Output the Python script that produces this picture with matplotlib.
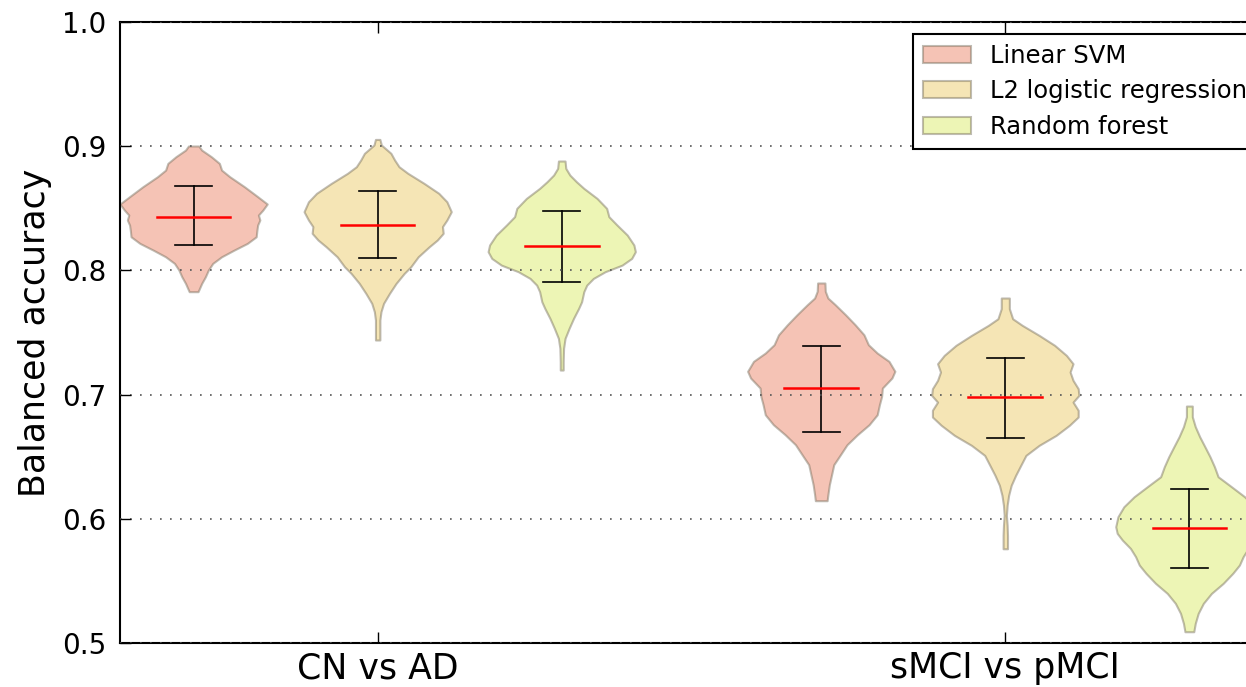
import numpy as np
import matplotlib.pyplot as plt
from matplotlib.patches import Patch

groups = ["CN vs AD", "sMCI vs pMCI"]
models = ["Linear SVM", "L2 logistic regression", "Random forest"]
colors = ["#f5c3b5", "#f5e5b5", "#edf5b5"]

# violin outlines: accuracy and relative half width (1 = widest)
svm_cn_y = [0.9002, 0.8969, 0.8916, 0.8862, 0.8808, 0.8755, 0.8674, 0.8594, 0.8535, 0.8486, 0.8446, 0.8406,
            0.8366, 0.8325, 0.8271, 0.8218, 0.8164, 0.8110, 0.8057, 0.8003, 0.7949, 0.7896, 0.7842, 0.7829]
svm_cn_w = [0.07, 0.11, 0.24, 0.35, 0.38, 0.49, 0.69, 0.87, 1.0, 0.94, 0.88, 0.90,
            0.87, 0.86, 0.85, 0.73, 0.55, 0.38, 0.26, 0.20, 0.16, 0.11, 0.07, 0.06]

lr_cn_y = [0.9055, 0.9010, 0.8943, 0.8889, 0.8835, 0.8782, 0.8701, 0.8621, 0.8553, 0.8473, 0.8406, 0.8353, 0.8299,
           0.8245, 0.8191, 0.8110, 0.8030, 0.7976, 0.7896, 0.7815, 0.7735, 0.7668, 0.7601, 0.7520, 0.7440]
lr_cn_w = [0.03, 0.05, 0.18, 0.23, 0.29, 0.41, 0.63, 0.83, 0.94, 1.0, 0.94, 0.88, 0.89,
           0.81, 0.70, 0.55, 0.45, 0.36, 0.25, 0.16, 0.08, 0.045, 0.03, 0.03, 0.03]

rf_cn_y = [0.8881, 0.8822, 0.8768, 0.8714, 0.8661, 0.8580, 0.8500, 0.8433, 0.8366, 0.8285, 0.8205, 0.8151, 0.8097,
           0.8043, 0.7990, 0.7936, 0.7882, 0.7829, 0.7748, 0.7695, 0.7614, 0.7534, 0.7453, 0.7373, 0.7265, 0.7198]
rf_cn_w = [0.045, 0.055, 0.11, 0.20, 0.30, 0.48, 0.61, 0.64, 0.75, 0.89, 0.98, 1.0, 0.95,
           0.82, 0.59, 0.43, 0.34, 0.30, 0.27, 0.23, 0.16, 0.10, 0.045, 0.025, 0.02, 0.02]

svm_mci_y = [0.7899, 0.7832, 0.7778, 0.7724, 0.7643, 0.7563, 0.7482, 0.7402, 0.7335, 0.7268, 0.7188, 0.7134, 0.7053,
             0.6986, 0.6919, 0.6838, 0.6758, 0.6677, 0.6597, 0.6516, 0.6436, 0.6355, 0.6275, 0.6194, 0.6146]
svm_mci_w = [0.05, 0.055, 0.09, 0.19, 0.33, 0.46, 0.58, 0.64, 0.76, 0.92, 1.0, 0.96, 0.83,
             0.82, 0.79, 0.76, 0.65, 0.49, 0.35, 0.26, 0.17, 0.14, 0.11, 0.09, 0.08]

lr_mci_y = [0.7778, 0.7692, 0.7611, 0.7558, 0.7477, 0.7397, 0.7316, 0.7249, 0.7182, 0.7115, 0.7048, 0.6994, 0.6940, 0.6874,
            0.6820, 0.6753, 0.6672, 0.6592, 0.6511, 0.6431, 0.6350, 0.6270, 0.6189, 0.6109, 0.6028, 0.5948, 0.5867, 0.5759]
lr_mci_w = [0.055, 0.055, 0.10, 0.23, 0.46, 0.67, 0.83, 0.92, 0.88, 0.92, 0.99, 1.0, 0.92, 0.99,
            0.99, 0.87, 0.69, 0.46, 0.28, 0.21, 0.14, 0.08, 0.045, 0.025, 0.015, 0.025, 0.03, 0.03]

rf_mci_y = [0.6908, 0.6822, 0.6742, 0.6661, 0.6581, 0.6500, 0.6420, 0.6339, 0.6259, 0.6178, 0.6097, 0.6017, 0.5936,
            0.5883, 0.5829, 0.5762, 0.5695, 0.5628, 0.5562, 0.5481, 0.5400, 0.5320, 0.5239, 0.5158, 0.5091]
rf_mci_w = [0.04, 0.04, 0.08, 0.14, 0.21, 0.28, 0.34, 0.39, 0.57, 0.75, 0.89, 0.97, 1.0,
            0.98, 0.91, 0.80, 0.73, 0.68, 0.59, 0.46, 0.30, 0.19, 0.12, 0.08, 0.06]

# mean and mean +/- std for each violin (same order as outlines)
means = [0.8434, 0.8363, 0.8199, 0.7050, 0.6981, 0.5924]
upper = [0.8682, 0.8639, 0.8476, 0.7389, 0.7294, 0.6238]
lower = [0.8201, 0.8103, 0.7909, 0.6703, 0.6650, 0.5606]

outlines = [(svm_cn_y, svm_cn_w), (lr_cn_y, lr_cn_w), (rf_cn_y, rf_cn_w),
            (svm_mci_y, svm_mci_w), (lr_mci_y, lr_mci_w), (rf_mci_y, rf_mci_w)]

positions = [1, 2, 3, 4.41, 5.41, 6.41]
half = 0.4

fig = plt.figure(figsize=(12.46, 6.87), dpi=100)
ax = fig.add_axes([0.0963, 0.064, 0.9454, 0.9039])

for i, (ys, ws) in enumerate(outlines):
    x0 = positions[i]
    ys = np.array(ys)
    ws = np.array(ws) * half
    ax.fill_betweenx(ys, x0 - ws, x0 + ws, facecolor=colors[i % 3],
                     edgecolor=(0.45, 0.42, 0.35, 0.45), linewidth=1.5, zorder=1)
    ax.plot([x0, x0], [lower[i], upper[i]], color="black", lw=1.2, zorder=2)
    ax.plot([x0 - 0.1, x0 + 0.1], [upper[i], upper[i]], color="black", lw=1.2, zorder=2)
    ax.plot([x0 - 0.1, x0 + 0.1], [lower[i], lower[i]], color="black", lw=1.2, zorder=2)
    ax.plot([x0 - 0.2, x0 + 0.2], [means[i], means[i]], color="red", lw=1.8, zorder=2)

ax.set_xlim(0.6, 7.0)
ax.set_ylim(0.5, 1.0)
ax.set_xticks([2, 5.41])
ax.set_xticklabels(groups, fontsize=25)
ax.set_yticks([0.5, 0.6, 0.7, 0.8, 0.9, 1.0])
ax.set_yticklabels(["0.5", "0.6", "0.7", "0.8", "0.9", "1.0"], fontsize=20)
ax.tick_params(axis="x", direction="in", length=8, width=1, top=True, pad=6)
ax.tick_params(axis="y", direction="in", length=8, width=1, right=True, pad=10)
ax.set_ylabel("Balanced accuracy", fontsize=25)
ax.yaxis.set_label_coords(-0.058, 0.5)

ax.yaxis.grid(True, linestyle=(0, (1, 5)), color="#555555", linewidth=1.2)
ax.set_axisbelow(False)
for sp in ax.spines.values():
    sp.set_linewidth(1.5)

handles = [Patch(facecolor=colors[k], edgecolor=(0.45, 0.42, 0.35, 0.45), linewidth=1.5) for k in range(3)]
leg = fig.legend(handles, models, loc="upper left", bbox_to_anchor=(913 / 1246, 1 - 34 / 687),
                 fontsize=17.5, fancybox=False, framealpha=1, edgecolor="black",
                 handlelength=2.0, handleheight=0.7, handletextpad=0.75, labelspacing=0.48,
                 borderpad=0.4, borderaxespad=0)
leg.get_frame().set_linewidth(1.5)

fig.savefig("out.png", dpi=100)
